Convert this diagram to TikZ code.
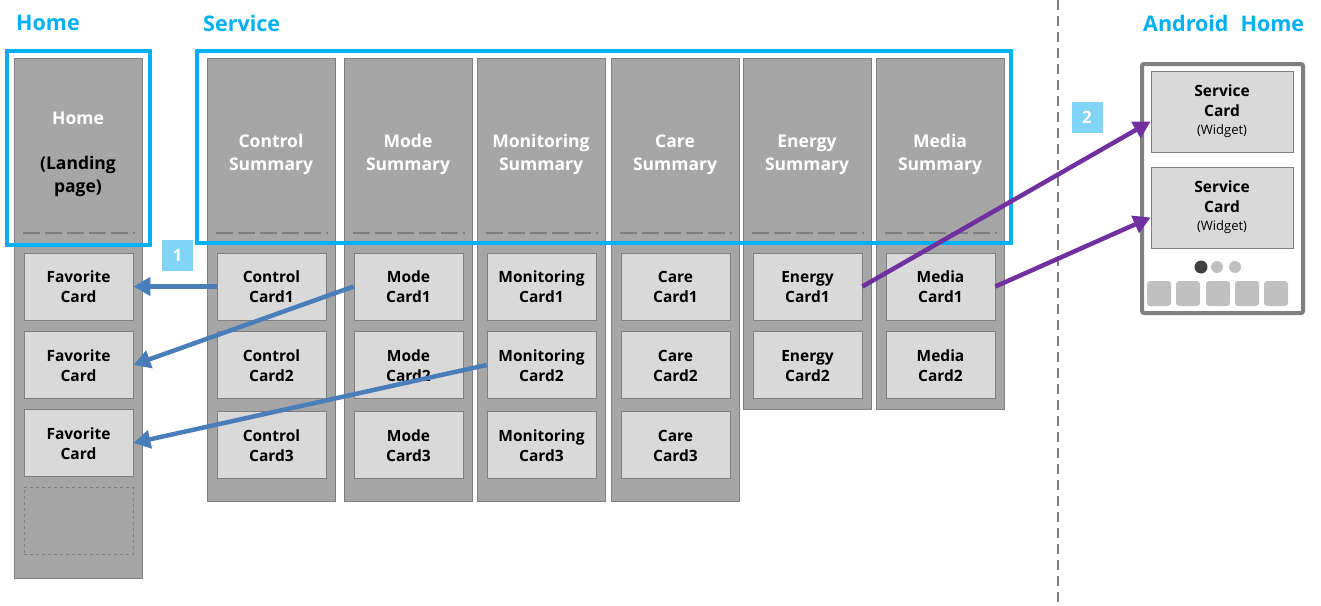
\documentclass[tikz,border=0pt]{standalone}
\usepackage{fontspec}
\setmainfont{Open Sans}
\usepackage{tikz}
\usetikzlibrary{arrows.meta,positioning,calc}
\definecolor{framecyan}{RGB}{0,176,240}
\definecolor{colgray}{RGB}{166,166,166}
\definecolor{edgegray}{RGB}{127,127,127}
\definecolor{cardgray}{RGB}{217,217,217}
\definecolor{icongray}{RGB}{192,192,192}
\definecolor{dotdark}{RGB}{64,64,64}
\definecolor{linkblue}{RGB}{74,126,187}
\definecolor{linkpurple}{RGB}{112,48,160}
\definecolor{badgeblue}{RGB}{128,212,246}
\newcommand{\cardlines}[2]{\strut#1\\#2\rule[-2pt]{0pt}{2pt}}

\begin{document}
\begin{tikzpicture}[x=1pt,y=-1pt,
    column/.style={draw=edgegray,fill=colgray,line width=1pt,minimum width=128pt,anchor=north west,inner sep=0pt},
    card/.style={draw=edgegray,fill=cardgray,line width=0.8pt,minimum width=109pt,minimum height=67pt,inner sep=0pt,align=center,font=\fontsize{15.5}{20}\selectfont\bfseries},
    headtxt/.style={white,align=center,font=\fontsize{17.5}{23}\selectfont\bfseries},
    title/.style={framecyan,anchor=west,inner sep=0pt,font=\fontsize{21.5}{25}\selectfont\bfseries},
    frame/.style={framecyan,line width=3.5pt},
    badge/.style={fill=badgeblue,text=white,minimum size=31pt,inner sep=0pt,font=\fontsize{17}{20}\selectfont\bfseries},
    link/.style={line width=4.5pt,-{Triangle[length=17pt,width=18pt]}},
    dashline/.style={edgegray,line width=1.5pt,dash pattern=on 16.5pt off 5.5pt},
    sepline/.style={edgegray,line width=1.5pt,dash pattern=on 10pt off 6pt}]
  \useasboundingbox (0,0) rectangle (1321,605);

  % titles
  \node[title] (thome) at (16,23) {Home};
  \node[title] (tsvc) at (203,23) {Service};
  \node[title] (tand) at (1143,23) {Android\hspace{12pt}Home};

  % home column
  \node[column,minimum height=520pt] (homecol) at (14,58) {};
  \node[headtxt] (hometxt) at (78,120) {Home\strut};
  \node[headtxt,black] (landtxt) at (78,176) {(Landing\strut\\page)\strut};
  \draw[dashline] (23,233) -- (135,233);
  \foreach \r/\y in {1/286.5,2/365,3/443}
    \node[card] (fav\r) at (78.5,\y) {\cardlines{Favorite}{Card}};
  \node[card,fill=colgray,dashed,line width=0.6pt] (favnew) at (78.5,520.5) {};

  % service columns
  \foreach \x/\id/\nm/\h/\n in {207/ctl/Control/443/3,344/mode/Mode/443/3,477/mon/Monitoring/443/3,
      611/care/Care/443/3,743/ene/Energy/351/2,876/med/Media/351/2} {
    \node[column,minimum height=\h pt] (\id) at (\x,58) {};
    \node[headtxt] at (\x+64,154.5) {\nm\strut\\Summary\strut};
    \draw[dashline] (\x+9,233) -- (\x+121,233);
    \foreach \r/\y in {1/286.5,2/365,3/445} {
      \ifnum\r>\n\else
        \node[card] (\id\r) at (\x+64.5,\y) {\cardlines{\nm}{Card\r}};
      \fi
    }
  }

  % frames
  \draw[frame] (7,51) rectangle (150,245);
  \draw[frame] (197,51) rectangle (1011,243);

  % separator
  \draw[sepline] (1058,0) -- (1058,605);

  % android phone
  \node[draw=edgegray,line width=4pt,fill=white,rounded corners=2pt,minimum width=161pt,minimum height=249pt,
    inner sep=0pt,anchor=north west] (phone) at (1140,62) {};
  \node[card,minimum width=142pt,minimum height=81pt] (wid1) at (1222,111.5)
    {Service\\Card\\[-2pt]{\fontsize{13}{16}\selectfont\mdseries (Widget)}};
  \node[card,minimum width=142pt,minimum height=81pt] (wid2) at (1222,207.5)
    {Service\\Card\\[-2pt]{\fontsize{13}{16}\selectfont\mdseries (Widget)}};
  \fill[dotdark] (1201,267) circle (6.5pt);
  \fill[icongray] (1217,267) circle (6pt);
  \fill[icongray] (1235,267) circle (6pt);
  \foreach \x in {1147,1176,1206,1235,1264}
    \fill[icongray,rounded corners=3pt] (\x,281) rectangle ++(24,25);

  % badges
  \node[badge] (b1) at (177.5,255) {1};
  \node[badge] (b2) at (1087,117) {2};

  % links
  \draw[link,linkblue] (ctl1.west) -- (fav1.east);
  \draw[link,linkblue] (mode1.west) -- (fav2.east);
  \draw[link,linkblue] (mon2.west) -- (fav3.east);
  \draw[link,linkpurple] (ene1.east) -- ([yshift=-10pt]wid1.west);
  \draw[link,linkpurple] (med1.east) -- ([yshift=-10pt]wid2.west);
\end{tikzpicture}
\end{document}
